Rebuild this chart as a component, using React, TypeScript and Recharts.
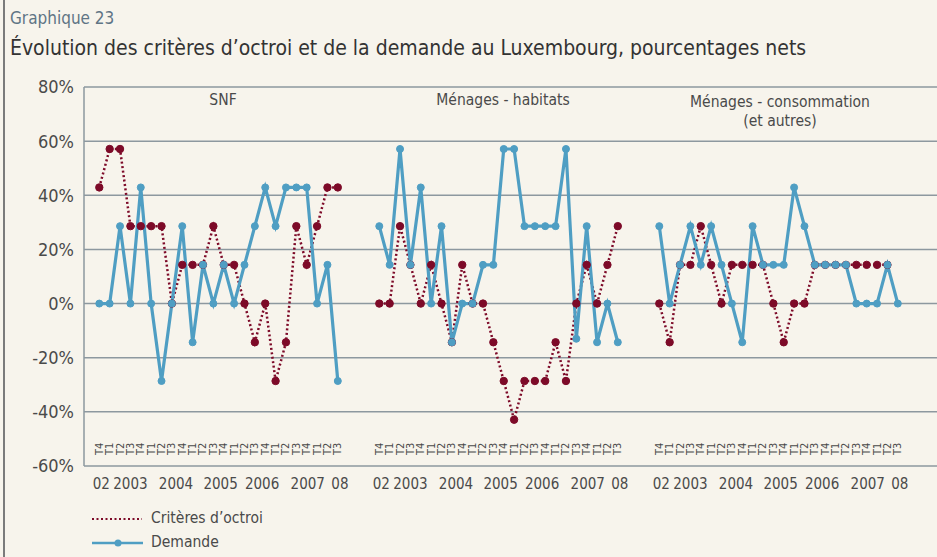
import { LineChart, Line, XAxis, YAxis, CartesianGrid } from 'recharts';

const FONT = "'DejaVu Sans Condensed', 'Liberation Sans Narrow', sans-serif";
const RED = '#7d0a28';
const BLUE = '#4f9ec3';
const GRID = '#8d989f';
const TEXT = '#4a4a4a';

const quarters = ['T4', 'T1', 'T2', 'T3', 'T4', 'T1', 'T2', 'T3', 'T4', 'T1', 'T2', 'T3', 'T4', 'T1', 'T2', 'T3', 'T4', 'T1', 'T2', 'T3', 'T4', 'T1', 'T2', 'T3'];
const years = ['02', '2003', '2004', '2005', '2006', '2007', '08'];
// where each year label sits, in quarter units from the first quarter of a panel
const yearAt = [0.2, 3, 7.4, 11.7, 15.7, 20.1, 23.2];
const yTicks = [-60, -40, -20, 0, 20, 40, 60, 80];

// SNF
const critSNF = [42.9, 57.1, 57.1, 28.6, 28.6, 28.6, 28.6, 0, 14.3, 14.3, 14.3, 28.6, 14.3, 14.3, 0, -14.3, 0, -28.6, -14.3, 28.6, 14.3, 28.6, 42.9, 42.9];
const demSNF = [0, 0, 28.6, 0, 42.9, 0, -28.6, 0, 28.6, -14.3, 14.3, 0, 14.3, 0, 14.3, 28.6, 42.9, 28.6, 42.9, 42.9, 42.9, 0, 14.3, -28.6];
// Ménages - habitats
const critHab = [0, 0, 28.6, 14.3, 0, 14.3, 0, -14.3, 14.3, 0, 0, -14.3, -28.6, -42.9, -28.6, -28.6, -28.6, -14.3, -28.6, 0, 14.3, 0, 14.3, 28.6];
const demHab = [28.6, 14.3, 57.1, 14.3, 42.9, 0, 28.6, -14.3, 0, 0, 14.3, 14.3, 57.1, 57.1, 28.6, 28.6, 28.6, 28.6, 57.1, -13, 28.6, -14.3, 0, -14.3];
// Ménages - consommation (et autres)
const critConso = [0, -14.3, 14.3, 14.3, 28.6, 14.3, 0, 14.3, 14.3, 14.3, 14.3, 0, -14.3, 0, 0, 14.3, 14.3, 14.3, 14.3, 14.3, 14.3, 14.3, 14.3, null];
const demConso = [28.6, 0, 14.3, 28.6, 14.3, 28.6, 14.3, 0, -14.3, 28.6, 14.3, 14.3, 14.3, 42.9, 28.6, 14.3, 14.3, 14.3, 14.3, 0, 0, 0, 14.3, 0];

const crit = [critSNF, critHab, critConso];
const dem = [demSNF, demHab, demConso];

const STEP = 27; // panels are 27 quarter-slots apart

const rows: any[] = [];
crit.forEach((c, p) => {
  quarters.forEach((q, i) => {
    rows.push({ x: p * STEP + i, q, crit: c[i], dem: dem[p][i] });
  });
  // empty slot so the lines break between panels
  rows.push({ x: p * STEP + 25, q: null, crit: null, dem: null });
});

const quarterTicks = rows.filter((r) => r.q).map((r) => r.x);
const yearTicks: number[] = [];
crit.forEach((_, p) => yearAt.forEach((a) => yearTicks.push(p * STEP + a)));

const domain = [-1.475, 80.78];

const QuarterTick = (props: any) => {
  const { x, y, payload } = props;
  const label = quarters[Math.round(payload.value) % STEP];
  const ty = y - 11;
  return (
    <text
      x={x}
      y={ty}
      transform={`rotate(-90, ${x}, ${ty})`}
      textAnchor='start'
      dominantBaseline='central'
      fontSize={11}
      fill={TEXT}
      fontFamily={FONT}
    >
      {label}
    </text>
  );
};

const YearTick = (props: any) => {
  const { x, y, index } = props;
  return (
    <text x={x} y={y + 22} textAnchor='middle' fontSize={15} fill={TEXT} fontFamily={FONT}>
      {years[index % years.length]}
    </text>
  );
};

const abs = (left: number, top: number, extra: any = {}) => ({
  position: 'absolute' as const,
  left,
  top,
  lineHeight: 1,
  whiteSpace: 'nowrap' as const,
  ...extra
});

export default function App() {
  return (
    <div
      style={{
        position: 'absolute',
        left: 0,
        top: 0,
        width: 937,
        height: 557,
        background: '#f7f4ec',
        fontFamily: FONT,
        color: TEXT,
        overflow: 'hidden'
      }}
    >
      <LineChart
        width={937}
        height={557}
        data={rows}
        margin={{ top: 87, right: 0, bottom: 60, left: 0 }}
        style={{ position: 'absolute', left: 0, top: 0 }}
      >
        <CartesianGrid vertical={false} stroke={GRID} strokeWidth={1.5} />
        <XAxis
          dataKey='x'
          type='number'
          domain={domain}
          allowDataOverflow
          ticks={quarterTicks}
          interval={0}
          height={1}
          tickSize={0}
          tickMargin={0}
          axisLine={false}
          tickLine={false}
          tick={<QuarterTick />}
        />
        <XAxis
          xAxisId='yr'
          dataKey='x'
          type='number'
          domain={domain}
          allowDataOverflow
          ticks={yearTicks}
          interval={0}
          height={30}
          tickSize={0}
          tickMargin={0}
          axisLine={false}
          tickLine={false}
          tick={<YearTick />}
        />
        <YAxis
          type='number'
          domain={[-60, 80]}
          ticks={yTicks}
          interval={0}
          width={84}
          tickSize={0}
          tickMargin={10}
          tickLine={false}
          axisLine={{ stroke: GRID, strokeWidth: 1.5 }}
          tickFormatter={(v) => `${v}%`}
          tick={{ fontSize: 18, fill: TEXT, fontFamily: FONT }}
        />
        <Line
          dataKey='crit'
          stroke={RED}
          strokeWidth={2.5}
          strokeDasharray='2 2.5'
          dot={{ r: 3.7, fill: RED, stroke: RED, strokeWidth: 1, strokeDasharray: '' }}
          isAnimationActive={false}
        />
        <Line
          dataKey='dem'
          stroke={BLUE}
          strokeWidth={3.2}
          dot={{ r: 3.5, fill: BLUE, stroke: BLUE, strokeWidth: 1 }}
          isAnimationActive={false}
        />
      </LineChart>

      <div style={{ position: 'absolute', left: 3, top: 0, width: 2, height: 557, background: '#7b7b7b' }} />
      <div style={abs(10, 10, { fontSize: 17, color: '#5f7585' })}>Graphique 23</div>
      <div style={abs(10, 38, { fontSize: 21, color: '#333' })}>
        Évolution des critères d’octroi et de la demande au Luxembourg, pourcentages nets
      </div>

      <div style={abs(223, 93, { fontSize: 15.5, transform: 'translateX(-50%)' })}>SNF</div>
      <div style={abs(503, 93, { fontSize: 15.5, transform: 'translateX(-50%)' })}>Ménages - habitats</div>
      <div style={abs(780, 93, { fontSize: 15.5, transform: 'translateX(-50%)', textAlign: 'center', lineHeight: '19px' })}>
        Ménages - consommation
        <br />
        (et autres)
      </div>

      <div style={abs(91, 510, { fontSize: 15.5 })}>
        <div style={{ display: 'flex', alignItems: 'center', height: 17 }}>
          <svg width={52} height={10}>
            <line x1={1} y1={5} x2={51} y2={5} stroke={RED} strokeWidth={2} strokeDasharray='2 2.5' />
          </svg>
          <span style={{ marginLeft: 8 }}>Critères d’octroi</span>
        </div>
        <div style={{ display: 'flex', alignItems: 'center', height: 17, marginTop: 7 }}>
          <svg width={52} height={10}>
            <line x1={1} y1={5} x2={52} y2={5} stroke={BLUE} strokeWidth={2.5} />
            <circle cx={27} cy={5} r={3.5} fill={BLUE} />
          </svg>
          <span style={{ marginLeft: 8 }}>Demande</span>
        </div>
      </div>
    </div>
  );
}
